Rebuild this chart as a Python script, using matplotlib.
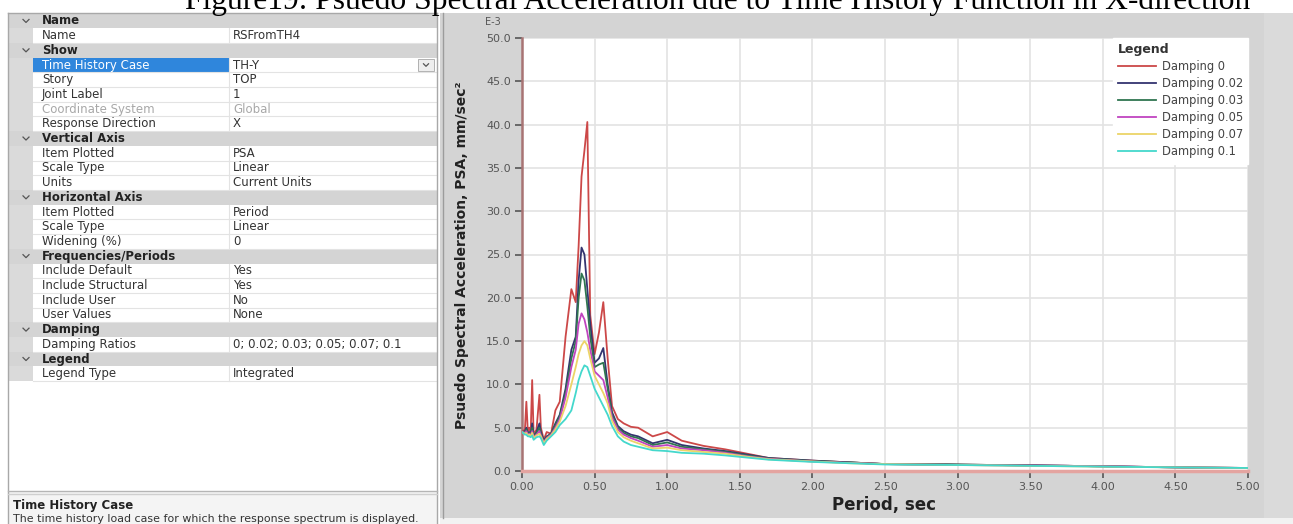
import numpy as np
import matplotlib.pyplot as plt
from matplotlib.patches import Rectangle

W, H = 1293, 524

title = "Figure19: Psuedo Spectral Acceleration due to Time History Function in X-direction"

# response spectrum, PSA in E-3 mm/sec^2
period = [0.00, 0.02, 0.03, 0.04, 0.05, 0.06, 0.07, 0.08, 0.10, 0.12, 0.13, 0.15,
          0.17, 0.20, 0.23, 0.26, 0.30, 0.34, 0.37, 0.39, 0.41, 0.43, 0.45, 0.47,
          0.50, 0.53, 0.56, 0.59, 0.62, 0.66, 0.70, 0.75, 0.80, 0.90, 1.00, 1.10,
          1.25, 1.40, 1.55, 1.70, 2.00, 2.25, 2.50, 2.95, 3.75, 4.60, 5.00]

psa_0 = [4.5, 4.8, 8.0, 4.6, 5.0, 4.5, 10.5, 4.2, 4.8, 8.8, 5.0, 3.6,
         4.5, 4.3, 7.0, 8.0, 15.5, 21.0, 19.5, 26.0, 34.0, 37.0, 40.3, 18.0,
         13.5, 16.0, 19.5, 13.0, 7.5, 6.0, 5.5, 5.1, 5.0, 4.0, 4.5, 3.5,
         2.9, 2.5, 2.0, 1.5, 1.2, 1.0, 0.8, 0.75, 0.6, 0.4, 0.35]
psa_002 = [4.5, 4.6, 5.0, 4.4, 4.5, 4.2, 5.5, 4.0, 4.5, 5.5, 4.5, 3.5,
           4.0, 4.3, 5.5, 6.5, 9.5, 14.0, 15.5, 22.0, 25.8, 25.0, 21.0, 17.0,
           12.5, 13.0, 14.2, 10.0, 6.8, 5.2, 4.6, 4.2, 4.0, 3.2, 3.6, 3.0,
           2.6, 2.3, 1.9, 1.5, 1.2, 1.0, 0.8, 0.75, 0.6, 0.4, 0.35]
psa_003 = [4.5, 4.5, 4.8, 4.3, 4.4, 4.2, 5.0, 4.0, 4.4, 5.0, 4.3, 3.4,
           3.9, 4.3, 5.3, 6.3, 9.0, 13.0, 15.0, 20.0, 22.8, 22.0, 19.0, 15.5,
           12.0, 12.3, 12.5, 9.5, 6.5, 5.0, 4.4, 4.0, 3.8, 3.0, 3.3, 2.8,
           2.5, 2.2, 1.8, 1.45, 1.15, 1.0, 0.8, 0.75, 0.6, 0.4, 0.35]
psa_005 = [4.5, 4.4, 4.6, 4.2, 4.3, 4.1, 4.6, 3.9, 4.2, 4.6, 4.1, 3.3,
           3.8, 4.2, 5.0, 6.0, 8.5, 12.0, 14.0, 17.0, 18.2, 17.5, 16.0, 14.0,
           11.5, 11.0, 10.5, 8.5, 6.2, 4.8, 4.2, 3.8, 3.5, 2.8, 3.0, 2.6,
           2.4, 2.1, 1.7, 1.4, 1.1, 0.95, 0.8, 0.7, 0.6, 0.4, 0.35]
psa_007 = [4.5, 4.3, 4.4, 4.1, 4.2, 4.0, 4.4, 3.8, 4.1, 4.3, 4.0, 3.2,
           3.7, 4.1, 4.8, 5.7, 7.5, 10.0, 12.0, 13.5, 14.5, 15.0, 14.5, 13.0,
           11.0, 10.0, 9.0, 7.8, 5.8, 4.5, 3.9, 3.5, 3.2, 2.6, 2.7, 2.4,
           2.2, 2.0, 1.65, 1.35, 1.1, 0.9, 0.8, 0.7, 0.55, 0.4, 0.35]
psa_01 = [4.5, 4.2, 4.2, 4.0, 4.0, 3.9, 4.1, 3.6, 3.9, 4.0, 3.8, 3.0,
          3.5, 4.0, 4.5, 5.3, 6.0, 7.0, 9.0, 10.5, 11.5, 12.2, 12.0, 11.0,
          9.5, 8.5, 7.5, 6.5, 5.2, 4.0, 3.4, 3.0, 2.8, 2.4, 2.3, 2.1,
          2.0, 1.8, 1.55, 1.3, 1.05, 0.9, 0.75, 0.7, 0.55, 0.4, 0.35]

damping_labels = ["Damping 0", "Damping 0.02", "Damping 0.03",
                  "Damping 0.05", "Damping 0.07", "Damping 0.1"]
damping_colors = ["#cc4848", "#34346f", "#2f7550", "#c044c0", "#ecd468", "#44d8cc"]

# property grid on the left ('h' = group header, 'p' = property, 'd' = disabled)
prop_kind = ["h", "p", "h", "p", "p", "p", "d", "p", "h", "p", "p", "p", "h",
             "p", "p", "p", "h", "p", "p", "p", "p", "h", "p", "h", "p"]
prop_name = ["Name", "Name", "Show", "Time History Case", "Story", "Joint Label",
             "Coordinate System", "Response Direction", "Vertical Axis",
             "Item Plotted", "Scale Type", "Units", "Horizontal Axis",
             "Item Plotted", "Scale Type", "Widening (%)", "Frequencies/Periods",
             "Include Default", "Include Structural", "Include User", "User Values",
             "Damping", "Damping Ratios", "Legend", "Legend Type"]
prop_value = ["", "RSFromTH4", "", "TH-Y", "TOP", "1", "Global", "X", "",
              "PSA", "Linear", "Current Units", "", "Period", "Linear", "0", "",
              "Yes", "Yes", "No", "None", "", "0; 0.02; 0.03; 0.05; 0.07; 0.1",
              "", "Integrated"]

fig = plt.figure(figsize=(W / 100, H / 100), dpi=100)
bg = fig.add_axes([0, 0, 1, 1])
bg.set_xlim(0, W)
bg.set_ylim(H, 0)
bg.axis("off")


def chevron(x, y, s=3.0):
    bg.plot([x - s, x, x + s], [y - s / 2, y + s / 2, y - s / 2], color="#555555", lw=0.9)


# --- left property panel
row_h = 14.7
top = 13.6
fs = 8.5
xl, xg, xd, xr = 8, 33, 229, 437
bg.add_patch(Rectangle((xl, top), xg - xl, row_h * len(prop_name), fc="#dadada", ec="none"))
for i, (k, n, v) in enumerate(zip(prop_kind, prop_name, prop_value)):
    y0 = top + i * row_h
    yc = y0 + row_h / 2
    if k == "h":
        bg.add_patch(Rectangle((xl, y0), xr - xl, row_h, fc="#d4d4d4", ec="none"))
        chevron(26, yc)
        bg.text(42, yc, n, fontsize=fs, weight="bold", color="#222222", va="center")
    else:
        bg.plot([xg, xr], [y0 + row_h, y0 + row_h], color="#e3e3e3", lw=0.8)
        bg.plot([xd, xd], [y0, y0 + row_h], color="#e3e3e3", lw=0.8)
        c = "#a8a8a8" if k == "d" else "#333333"
        tc = c
        if n == "Time History Case":
            bg.add_patch(Rectangle((xg, y0 + 0.5), xd - xg, row_h - 1, fc="#2f86dc", ec="none"))
            tc = "white"
            bg.add_patch(Rectangle((418, y0 + 1.5), 16, row_h - 3, fc="#eeeeee", ec="#b0b0b0", lw=0.7))
            chevron(426, yc, 2.5)
        bg.text(42, yc, n, fontsize=fs, color=tc, va="center")
        bg.text(233, yc, v, fontsize=fs, color=c, va="center")

bg.plot([xl, xr], [13, 13], color="#a8a8a8", lw=1)
bg.plot([xl, xl], [13, H], color="#a8a8a8", lw=1)
bg.plot([xr, xr], [13, H], color="#a8a8a8", lw=1)
bg.add_patch(Rectangle((xl, 492), xr - xl, H - 492, fc="#f4f4f4", ec="none"))
bg.plot([xl, xr], [491, 491], color="#b5b5b5", lw=1)
bg.plot([xl, xr], [494, 494], color="#cfcfcf", lw=1)
bg.text(13, 505, "Time History Case", fontsize=fs, weight="bold", color="#222222", va="center")
bg.text(13, 518.5, "The time history load case for which the response spectrum is displayed.",
        fontsize=7.9, color="#333333", va="center")

# --- chart panel background
bg.add_patch(Rectangle((440, 13), W - 440, 505, fc="#d4d4d4", ec="none"))
bg.add_patch(Rectangle((1264, 13), W - 1264, 505, fc="#dadada", ec="none"))
bg.plot([443, 443], [13, 518], color="#9c9c9c", lw=1)
bg.add_patch(Rectangle((440, 518), W - 440, H - 518, fc="#f2f2f2", ec="none"))

fig.text(185 / W, 1 - 9.5 / H, title, family="Liberation Serif", fontsize=22.7,
         ha="left", va="baseline", color="black")

# --- spectrum plot
ax = fig.add_axes([522 / W, 1 - 471 / H, (1248 - 522) / W, (471 - 38) / H])
ax.set_facecolor("white")
series = [psa_0, psa_002, psa_003, psa_005, psa_007, psa_01]
for vals, lab, col in zip(series, damping_labels, damping_colors):
    ax.plot(period, vals, color=col, lw=1.3, label=lab, zorder=3)

ax.set_xlim(0, 5)
ax.set_ylim(0, 50)
ax.set_xticks(np.arange(0, 5.01, 0.5))
ax.set_yticks(np.arange(0, 50.1, 5))
ax.set_xticklabels([f"{t:.2f}" for t in np.arange(0, 5.01, 0.5)])
ax.set_yticklabels([f"{t:.1f}" for t in np.arange(0, 50.1, 5)])
ax.grid(color="#e3e3e3", lw=1.2, zorder=0)
ax.set_axisbelow(True)
ax.tick_params(axis="both", labelsize=8, colors="#555555", length=5, width=1.2, pad=3)
for s in ["top", "right"]:
    ax.spines[s].set_visible(False)
ax.spines["left"].set_color("#a87474")
ax.spines["left"].set_linewidth(1.8)
ax.spines["bottom"].set_color("#e4a4a0")
ax.spines["bottom"].set_linewidth(2.5)
ax.spines["bottom"].set_zorder(4)

leg = ax.legend(loc="upper right", bbox_to_anchor=(1.0, 1.0), borderaxespad=0,
                frameon=True, fancybox=False, edgecolor="white", facecolor="white",
                framealpha=1, fontsize=8.3, labelcolor="#444444", title="Legend",
                title_fontproperties={"weight": "bold", "size": 9},
                alignment="left", handlelength=3.3, handletextpad=0.5,
                labelspacing=0.35, borderpad=0.45)
leg.get_title().set_color("#333333")
leg.set_zorder(5)

fig.text(493 / W, 1 - 22 / H, "E-3", fontsize=7, color="#555555", ha="center", va="center")
fig.text(462 / W, 1 - 255 / H, "Psuedo Spectral Acceleration, PSA, mm/sec\u00b2",
         rotation=90, fontsize=10, weight="bold", color="#222222", ha="center", va="center")
fig.text(884 / W, 1 - 505 / H, "Period, sec", fontsize=12, weight="bold",
         color="#222222", ha="center", va="center")

fig.savefig("out.png", dpi=100)
